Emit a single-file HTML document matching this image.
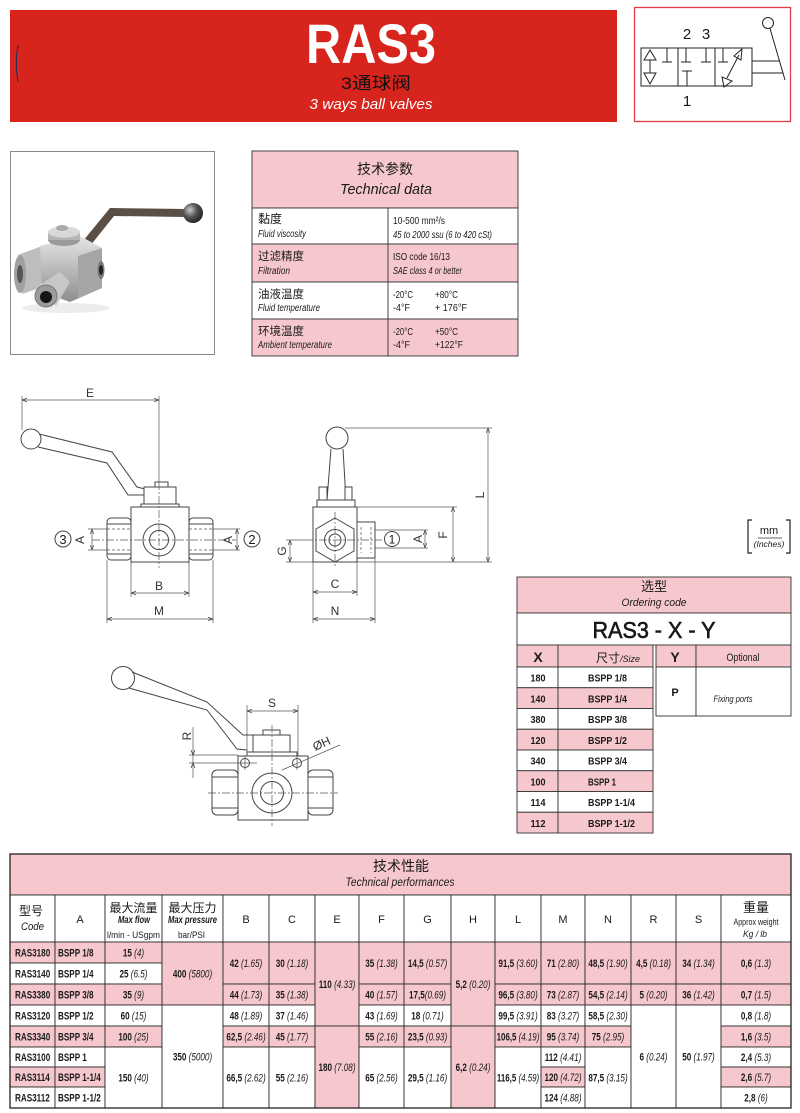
<!DOCTYPE html>
<html><head><meta charset="utf-8">
<style>
html,body{margin:0;padding:0;background:#fff;}
svg{display:block;}
text{font-family:'Liberation Sans','Noto Sans CJK SC',sans-serif;fill:#1a1a1a;}
.b{font-weight:bold;}
.i{font-style:italic;}
.ln{stroke:#444;stroke-width:1;fill:none;}
.lf{stroke:#444;stroke-width:1;fill:#fff;}
.dm{stroke:#555;stroke-width:0.7;fill:none;}
.cl{stroke:#555;stroke-width:0.7;fill:none;stroke-dasharray:8 2 2 2;}
.dl{font-size:12px;fill:#333;}
.d{font-size:11px;}
</style></head><body>
<svg width="800" height="1113" viewBox="0 0 800 1113" xmlns="http://www.w3.org/2000/svg">
<defs>
<marker id="a" viewBox="0 0 10 10" refX="10" refY="5" markerUnits="userSpaceOnUse" markerWidth="5" markerHeight="5" orient="auto-start-reverse"><path d="M0,1.5 L10,5 L0,8.5" fill="none" stroke="#444" stroke-width="1.4"/></marker>
<linearGradient id="met" x1="0" y1="0" x2="0" y2="1"><stop offset="0" stop-color="#e6e6e6"/><stop offset="1" stop-color="#8d8d8d"/></linearGradient>
<radialGradient id="ball" cx=".35" cy=".35" r=".7"><stop offset="0" stop-color="#ccc"/><stop offset=".5" stop-color="#555"/><stop offset="1" stop-color="#222"/></radialGradient>
</defs>

<!-- HEADER -->
<rect x="10" y="10" width="607" height="112" fill="#d7251d"/>
<path d="M18,45 Q14.5,63 18,82" stroke="#1d3060" stroke-width="1.1" fill="none"/>
<text x="371" y="63" font-size="56" class="b" style="fill:#fff" text-anchor="middle" textLength="130" lengthAdjust="spacingAndGlyphs">RAS3</text>
<text x="376" y="89" font-size="17" style="fill:#111" text-anchor="middle" textLength="70" lengthAdjust="spacingAndGlyphs">3通球阀</text>
<text x="371" y="109" font-size="15" class="i" style="fill:#fff" text-anchor="middle" textLength="123" lengthAdjust="spacingAndGlyphs">3 ways ball valves</text>

<!-- SYMBOL -->
<rect x="634.5" y="7.5" width="156" height="114" fill="#fff" stroke="#e33b47" stroke-width="1.3"/>
<text x="687" y="39" font-size="15" text-anchor="middle">2</text>
<text x="706" y="39" font-size="15" text-anchor="middle">3</text>
<text x="687" y="106" font-size="15" text-anchor="middle">1</text>
<g stroke="#222" stroke-width="1" fill="none">
<rect x="641" y="48" width="111" height="38"/>
<line x1="678" y1="48" x2="678" y2="86"/>
<line x1="715" y1="48" x2="715" y2="86"/>
<line x1="650" y1="60" x2="650" y2="73"/>
<path d="M644,60 L650,50 L656,60 Z"/>
<path d="M644,73 L650,84 L656,73 Z"/>
<path d="M667,48 V62 M662,62 H672"/>
<path d="M686,48 V62 M681,62 H691"/>
<path d="M706,48 V62 M701,62 H711"/>
<path d="M682,71 H692 M687,71 V86"/>
<path d="M723,48 V62 M718,62 H728"/>
<line x1="727" y1="78" x2="739" y2="55"/>
<path d="M734,56 L742,49 L741,60 Z"/>
<path d="M722,77 L724,87 L732,81 Z"/>
<path d="M752,61 H780 M752,73 H783"/>
<circle cx="768" cy="23" r="5.5"/>
<line x1="770" y1="28.5" x2="785" y2="80"/>
</g>

<!-- PHOTO -->
<rect x="10.5" y="151.5" width="204" height="203" fill="#fff" stroke="#8a8a8a"/>
<ellipse cx="66" cy="308" rx="44" ry="5" fill="#ececec"/>
<path d="M74,252 L110,208 L186,209 L186,217 L114,216 L82,256 Z" fill="#5b4e44"/>
<circle cx="193" cy="213" r="10" fill="url(#ball)"/>
<path d="M18,255 L42,246 L46,286 L22,294 Z" fill="#bdbdbd"/>
<ellipse cx="20" cy="274" rx="6" ry="19" fill="#a0a0a0"/>
<ellipse cx="20" cy="274" rx="3" ry="9" fill="#555"/>
<path d="M40,246 L80,236 L102,248 L102,288 L70,302 L42,292 Z" fill="url(#met)"/>
<path d="M78,256 L102,248 L102,288 L78,298 Z" fill="#a5a5a5"/>
<ellipse cx="101" cy="270" rx="3.5" ry="9" fill="#777"/>
<ellipse cx="101" cy="270" rx="2" ry="5" fill="#222"/>
<path d="M38,286 L60,272 L70,282 L56,306 Z" fill="#c7c7c7"/>
<circle cx="46" cy="296" r="11" fill="#9c9c9c" stroke="#777"/>
<circle cx="46" cy="297" r="6" fill="#151515"/>
<ellipse cx="64" cy="240" rx="16" ry="6" fill="#9a9a9a"/>
<rect x="48" y="232" width="32" height="8" fill="#b5b5b5"/>
<ellipse cx="64" cy="232" rx="16" ry="5.5" fill="#d9d9d9"/>
<ellipse cx="62" cy="228" rx="6" ry="3" fill="#aaa"/>

<!-- TECH DATA TABLE -->
<g stroke="#333" stroke-width="0.9">
<rect x="252" y="151" width="266" height="57" fill="#f6c8ce"/>
<rect x="252" y="208" width="266" height="36" fill="#fff"/>
<rect x="252" y="244" width="266" height="38" fill="#f6c8ce"/>
<rect x="252" y="282" width="266" height="37" fill="#fff"/>
<rect x="252" y="319" width="266" height="37" fill="#f6c8ce"/>
<line x1="388" y1="208" x2="388" y2="356"/>
</g>
<text x="385" y="174" font-size="14" text-anchor="middle">技术参数</text>
<text x="386" y="194" font-size="15" class="i" text-anchor="middle" textLength="92" lengthAdjust="spacingAndGlyphs">Technical data</text>
<text x="258" y="223" font-size="12">黏度</text>
<text x="258" y="237" font-size="10" class="i" textLength="48" lengthAdjust="spacingAndGlyphs">Fluid viscosity</text>
<text x="258" y="260" font-size="11.5">过滤精度</text>
<text x="258" y="274" font-size="10" class="i" textLength="32" lengthAdjust="spacingAndGlyphs">Filtration</text>
<text x="258" y="298" font-size="11.5">油液温度</text>
<text x="258" y="311" font-size="10" class="i" textLength="62" lengthAdjust="spacingAndGlyphs">Fluid temperature</text>
<text x="258" y="335" font-size="11.5">环境温度</text>
<text x="258" y="348" font-size="10" class="i" textLength="74" lengthAdjust="spacingAndGlyphs">Ambient temperature</text>
<text x="393" y="224" font-size="10" textLength="52" lengthAdjust="spacingAndGlyphs">10-500 mm²/s</text>
<text x="393" y="238" font-size="10" class="i" textLength="99" lengthAdjust="spacingAndGlyphs">45 to 2000 ssu (6 to 420 cSt)</text>
<text x="393" y="260" font-size="10" textLength="57" lengthAdjust="spacingAndGlyphs">ISO code 16/13</text>
<text x="393" y="274" font-size="10" class="i" textLength="69" lengthAdjust="spacingAndGlyphs">SAE class 4 or better</text>
<text x="393" y="298" font-size="10" textLength="20" lengthAdjust="spacingAndGlyphs">-20°C</text>
<text x="435" y="298" font-size="10" textLength="23" lengthAdjust="spacingAndGlyphs">+80°C</text>
<text x="393" y="311" font-size="10" textLength="17" lengthAdjust="spacingAndGlyphs">-4°F</text>
<text x="435" y="311" font-size="10" textLength="32" lengthAdjust="spacingAndGlyphs">+ 176°F</text>
<text x="393" y="335" font-size="10" textLength="20" lengthAdjust="spacingAndGlyphs">-20°C</text>
<text x="435" y="335" font-size="10" textLength="23" lengthAdjust="spacingAndGlyphs">+50°C</text>
<text x="393" y="348" font-size="10" textLength="17" lengthAdjust="spacingAndGlyphs">-4°F</text>
<text x="435" y="348" font-size="10" textLength="28" lengthAdjust="spacingAndGlyphs">+122°F</text>

<!-- FRONT VIEW -->
<line class="dm" x1="22" y1="400" x2="159" y2="400" marker-start="url(#a)" marker-end="url(#a)"/>
<line class="dm" x1="22" y1="396" x2="22" y2="430"/>
<line class="dm" x1="159" y1="396" x2="159" y2="482"/>
<text x="90" y="397" class="dl" text-anchor="middle">E</text>
<circle class="lf" cx="31" cy="439" r="10"/>
<path class="ln" d="M39,434 L112,452 L137,487 L145,489"/>
<path class="ln" d="M38,447 L107,463 L128,495 L144,495"/>
<rect class="lf" x="144" y="487" width="32" height="17"/>
<rect class="lf" x="155" y="482" width="13" height="5"/>
<rect class="lf" x="141" y="504" width="38" height="3"/>
<rect class="lf" x="131" y="507" width="58" height="55"/>
<rect class="lf" x="107" y="518" width="24" height="42" rx="4"/>
<path class="ln" d="M107,524 H131 M107,554 H131"/>
<rect class="lf" x="189" y="518" width="24" height="42" rx="4"/>
<path class="ln" d="M189,524 H213 M189,554 H213"/>
<circle class="ln" cx="159" cy="540" r="16"/>
<circle class="ln" cx="159" cy="540" r="9.5"/>
<line class="cl" x1="159" y1="482" x2="159" y2="568"/>
<line class="cl" x1="92" y1="540" x2="236" y2="540"/>
<path class="dm" d="M88,529 H107 M88,550 H107"/>
<path class="dm" d="M107,529 H131 M107,550 H131" stroke-dasharray="3 2"/>
<line class="dm" x1="92" y1="529" x2="92" y2="550" marker-start="url(#a)" marker-end="url(#a)"/>
<text transform="translate(84,540) rotate(-90)" class="dl" text-anchor="middle">A</text>
<circle class="ln" cx="63" cy="539" r="8"/>
<text x="63" y="544" font-size="13" text-anchor="middle">3</text>
<path class="dm" d="M213,529 H240 M213,550 H240"/>
<path class="dm" d="M189,529 H213 M189,550 H213" stroke-dasharray="3 2"/>
<line class="dm" x1="237" y1="529" x2="237" y2="550" marker-start="url(#a)" marker-end="url(#a)"/>
<text transform="translate(232,540) rotate(-90)" class="dl" text-anchor="middle">A</text>
<circle class="ln" cx="252" cy="539" r="8"/>
<text x="252" y="544" font-size="13" text-anchor="middle">2</text>
<path class="dm" d="M131,562 V597 M189,562 V597"/>
<line class="dm" x1="131" y1="593" x2="189" y2="593" marker-start="url(#a)" marker-end="url(#a)"/>
<text x="159" y="590" class="dl" text-anchor="middle">B</text>
<path class="dm" d="M107,560 V623 M213,560 V623"/>
<line class="dm" x1="107" y1="619" x2="213" y2="619" marker-start="url(#a)" marker-end="url(#a)"/>
<text x="159" y="615" class="dl" text-anchor="middle">M</text>

<!-- SIDE VIEW -->
<path class="dm" d="M345,428 H492"/>
<circle class="lf" cx="337" cy="438" r="11"/>
<path class="ln" d="M331,449 L327,500 M343,449 L346,500"/>
<rect class="lf" x="319" y="487" width="8" height="16"/>
<rect class="lf" x="345" y="487" width="7" height="16"/>
<rect class="lf" x="317" y="500" width="38" height="7"/>
<rect class="lf" x="313" y="507" width="44" height="55"/>
<polygon class="ln" points="335,518 354,529 354,551 335,562 316,551 316,529"/>
<circle class="ln" cx="335" cy="540" r="10.5"/>
<circle class="ln" cx="335" cy="540" r="6"/>
<rect class="lf" x="357" y="522" width="18" height="36"/>
<path class="dm" d="M361,527 V553 M371,527 V553" stroke-dasharray="3 2"/>
<circle class="ln" cx="392" cy="539" r="7.5"/>
<text x="392" y="543.5" font-size="12" text-anchor="middle">1</text>
<path class="dm" d="M375,530 H428 M375,548 H428"/>
<line class="dm" x1="425" y1="530" x2="425" y2="548" marker-start="url(#a)" marker-end="url(#a)"/>
<text transform="translate(422,539) rotate(-90)" class="dl" text-anchor="middle">A</text>
<line class="cl" x1="305" y1="540" x2="382" y2="540"/>
<line class="cl" x1="335" y1="512" x2="335" y2="568"/>
<path class="dm" d="M357,507 H457"/>
<line class="dm" x1="453" y1="507" x2="453" y2="562" marker-start="url(#a)" marker-end="url(#a)"/>
<text transform="translate(447,535) rotate(-90)" class="dl" text-anchor="middle">F</text>
<line class="dm" x1="488" y1="428" x2="488" y2="562" marker-start="url(#a)" marker-end="url(#a)"/>
<text transform="translate(484,495) rotate(-90)" class="dl" text-anchor="middle">L</text>
<path class="dm" d="M357,562 H492"/>
<path class="dm" d="M286,562 H313 M286,540 H305"/>
<line class="dm" x1="290" y1="540" x2="290" y2="562" marker-start="url(#a)" marker-end="url(#a)"/>
<text transform="translate(286,551) rotate(-90)" class="dl" text-anchor="middle">G</text>
<path class="dm" d="M313,562 V623 M357,562 V596 M375,558 V623"/>
<line class="dm" x1="313" y1="592" x2="357" y2="592" marker-start="url(#a)" marker-end="url(#a)"/>
<text x="335" y="588" class="dl" text-anchor="middle">C</text>
<line class="dm" x1="313" y1="619" x2="375" y2="619" marker-start="url(#a)" marker-end="url(#a)"/>
<text x="335" y="615" class="dl" text-anchor="middle">N</text>

<!-- MM / INCHES -->
<path d="M752,520 H748 V553 H752 M786,520 H790 V553 H786" stroke="#222" stroke-width="1.2" fill="none"/>
<text x="769" y="534" font-size="11" text-anchor="middle">mm</text>
<line x1="758" y1="538" x2="782" y2="538" stroke="#333" stroke-width="0.8"/>
<text x="769" y="547" font-size="8.5" class="i" text-anchor="middle">(Inches)</text>

<!-- PLAN VIEW -->
<path class="dm" d="M247,705 V756 M298,705 V770"/>
<line class="dm" x1="247" y1="711" x2="298" y2="711" marker-start="url(#a)" marker-end="url(#a)"/>
<text x="272" y="707" class="dl" text-anchor="middle">S</text>
<circle class="lf" cx="123" cy="678" r="11.5"/>
<path class="ln" d="M132,672 L207,702 L243,735 L253,735"/>
<path class="ln" d="M129,688 L207,710 L237,749 L247,750"/>
<rect class="lf" x="253" y="735" width="37" height="17"/>
<rect class="lf" x="263" y="730" width="17" height="5"/>
<rect class="lf" x="247" y="752" width="50" height="4"/>
<rect class="lf" x="238" y="756" width="70" height="64"/>
<rect class="lf" x="212" y="770" width="26" height="45" rx="5"/>
<path class="ln" d="M212,777 H238 M212,808 H238"/>
<rect class="lf" x="308" y="770" width="25" height="45" rx="5"/>
<path class="ln" d="M308,777 H333 M308,808 H333"/>
<circle class="ln" cx="272" cy="793" r="20"/>
<circle class="ln" cx="272" cy="793" r="11.5"/>
<circle class="ln" cx="245" cy="763" r="4.5"/>
<circle class="ln" cx="297" cy="763" r="4.5"/>
<path class="dm" d="M297,756 V770 M245,756 V770"/>
<line class="cl" x1="272" y1="725" x2="272" y2="826"/>
<line class="cl" x1="208" y1="793" x2="338" y2="793"/>
<path class="dm" d="M189,755 H238 M189,763 H257"/>
<line class="dm" x1="193" y1="727" x2="193" y2="778"/>
<path d="M191,750 L193,755 L195,750 M191,768 L193,763 L195,768" stroke="#444" stroke-width="0.8" fill="none"/>
<text transform="translate(191,736) rotate(-90)" class="dl" text-anchor="middle">R</text>
<line class="dm" x1="282" y1="770" x2="340" y2="745"/>
<text transform="translate(315,751) rotate(-24)" class="dl">ØH</text>

<!-- ORDERING CODE -->
<g stroke="#333" stroke-width="0.9">
<rect x="517" y="577" width="274" height="36" fill="#f6c8ce"/>
<rect x="517" y="613" width="274" height="32" fill="#fff"/>
<rect x="517" y="645" width="41" height="22" fill="#f6c8ce"/>
<rect x="558" y="645" width="95" height="22" fill="#f6c8ce"/>
<rect x="656" y="645" width="40" height="22" fill="#f6c8ce"/>
<rect x="696" y="645" width="95" height="22" fill="#f6c8ce"/>
<rect x="656" y="667" width="40" height="49" fill="#fff"/>
<rect x="696" y="667" width="95" height="49" fill="#fff"/>
<rect x="517" y="667" width="41" height="20.75" fill="#fff"/><rect x="558" y="667" width="95" height="20.75" fill="#fff"/>
<rect x="517" y="687.75" width="41" height="20.75" fill="#f6c8ce"/><rect x="558" y="687.75" width="95" height="20.75" fill="#f6c8ce"/>
<rect x="517" y="708.5" width="41" height="20.75" fill="#fff"/><rect x="558" y="708.5" width="95" height="20.75" fill="#fff"/>
<rect x="517" y="729.25" width="41" height="20.75" fill="#f6c8ce"/><rect x="558" y="729.25" width="95" height="20.75" fill="#f6c8ce"/>
<rect x="517" y="750" width="41" height="20.75" fill="#fff"/><rect x="558" y="750" width="95" height="20.75" fill="#fff"/>
<rect x="517" y="770.75" width="41" height="20.75" fill="#f6c8ce"/><rect x="558" y="770.75" width="95" height="20.75" fill="#f6c8ce"/>
<rect x="517" y="791.5" width="41" height="20.75" fill="#fff"/><rect x="558" y="791.5" width="95" height="20.75" fill="#fff"/>
<rect x="517" y="812.25" width="41" height="20.75" fill="#f6c8ce"/><rect x="558" y="812.25" width="95" height="20.75" fill="#f6c8ce"/>
</g>
<text x="654" y="591" font-size="13" text-anchor="middle">选型</text>
<text x="654" y="606" font-size="11" class="i" text-anchor="middle" textLength="65" lengthAdjust="spacingAndGlyphs">Ordering code</text>
<text x="654" y="638" font-size="23" text-anchor="middle" textLength="123" lengthAdjust="spacingAndGlyphs" stroke="#111" stroke-width="0.6">RAS3 - X - Y</text>
<text x="538" y="662" font-size="14" class="b" text-anchor="middle">X</text>
<text x="596" y="662" font-size="12">尺寸<tspan class="i" font-size="9">/Size</tspan></text>
<text x="675" y="662" font-size="14" class="b" text-anchor="middle">Y</text>
<text x="743" y="661" font-size="11" text-anchor="middle" textLength="33" lengthAdjust="spacingAndGlyphs">Optional</text>
<text x="675" y="696" font-size="11" class="b" text-anchor="middle">P</text>
<text x="733" y="702" font-size="9.5" class="i" text-anchor="middle" textLength="39" lengthAdjust="spacingAndGlyphs">Fixing ports</text>
<g class="b" font-size="10.5">
<text x="538" y="681.5" text-anchor="middle" textLength="15" lengthAdjust="spacingAndGlyphs">180</text>
<text x="588" y="681.5" textLength="39" lengthAdjust="spacingAndGlyphs">BSPP 1/8</text>
<text x="538" y="702.25" text-anchor="middle" textLength="15" lengthAdjust="spacingAndGlyphs">140</text>
<text x="588" y="702.25" textLength="39" lengthAdjust="spacingAndGlyphs">BSPP 1/4</text>
<text x="538" y="723" text-anchor="middle" textLength="15" lengthAdjust="spacingAndGlyphs">380</text>
<text x="588" y="723" textLength="39" lengthAdjust="spacingAndGlyphs">BSPP 3/8</text>
<text x="538" y="743.75" text-anchor="middle" textLength="15" lengthAdjust="spacingAndGlyphs">120</text>
<text x="588" y="743.75" textLength="39" lengthAdjust="spacingAndGlyphs">BSPP 1/2</text>
<text x="538" y="764.5" text-anchor="middle" textLength="15" lengthAdjust="spacingAndGlyphs">340</text>
<text x="588" y="764.5" textLength="39" lengthAdjust="spacingAndGlyphs">BSPP 3/4</text>
<text x="538" y="785.25" text-anchor="middle" textLength="15" lengthAdjust="spacingAndGlyphs">100</text>
<text x="588" y="785.25" textLength="28" lengthAdjust="spacingAndGlyphs">BSPP 1</text>
<text x="538" y="806" text-anchor="middle" textLength="15" lengthAdjust="spacingAndGlyphs">114</text>
<text x="588" y="806" textLength="47" lengthAdjust="spacingAndGlyphs">BSPP 1-1/4</text>
<text x="538" y="826.75" text-anchor="middle" textLength="15" lengthAdjust="spacingAndGlyphs">112</text>
<text x="588" y="826.75" textLength="47" lengthAdjust="spacingAndGlyphs">BSPP 1-1/2</text>
</g>

<!-- TECHNICAL PERFORMANCES TABLE -->
<g stroke="#2b2b2b" stroke-width="0.9">
<rect x="10" y="854" width="781" height="41" fill="#f6c8ce"/>
<rect x="10" y="895" width="45" height="47" fill="#fff"/>
<rect x="55" y="895" width="50" height="47" fill="#fff"/>
<rect x="105" y="895" width="57" height="47" fill="#fff"/>
<rect x="162" y="895" width="61" height="47" fill="#fff"/>
<rect x="223" y="895" width="46" height="47" fill="#fff"/>
<rect x="269" y="895" width="46" height="47" fill="#fff"/>
<rect x="315" y="895" width="44" height="47" fill="#fff"/>
<rect x="359" y="895" width="45" height="47" fill="#fff"/>
<rect x="404" y="895" width="47" height="47" fill="#fff"/>
<rect x="451" y="895" width="44" height="47" fill="#fff"/>
<rect x="495" y="895" width="46" height="47" fill="#fff"/>
<rect x="541" y="895" width="44" height="47" fill="#fff"/>
<rect x="585" y="895" width="46" height="47" fill="#fff"/>
<rect x="631" y="895" width="45" height="47" fill="#fff"/>
<rect x="676" y="895" width="45" height="47" fill="#fff"/>
<rect x="721" y="895" width="70" height="47" fill="#fff"/>
<rect x="10" y="942" width="45" height="21" fill="#f6c8ce"/><rect x="55" y="942" width="50" height="21" fill="#f6c8ce"/>
<rect x="10" y="963" width="45" height="21" fill="#fff"/><rect x="55" y="963" width="50" height="21" fill="#fff"/>
<rect x="10" y="984" width="45" height="21" fill="#f6c8ce"/><rect x="55" y="984" width="50" height="21" fill="#f6c8ce"/>
<rect x="10" y="1005" width="45" height="21" fill="#fff"/><rect x="55" y="1005" width="50" height="21" fill="#fff"/>
<rect x="10" y="1026" width="45" height="21" fill="#f6c8ce"/><rect x="55" y="1026" width="50" height="21" fill="#f6c8ce"/>
<rect x="10" y="1047" width="45" height="20" fill="#fff"/><rect x="55" y="1047" width="50" height="20" fill="#fff"/>
<rect x="10" y="1067" width="45" height="20" fill="#f6c8ce"/><rect x="55" y="1067" width="50" height="20" fill="#f6c8ce"/>
<rect x="10" y="1087" width="45" height="21" fill="#fff"/><rect x="55" y="1087" width="50" height="21" fill="#fff"/>
<rect x="105" y="942" width="57" height="21" fill="#f6c8ce"/>
<rect x="105" y="963" width="57" height="21" fill="#fff"/>
<rect x="105" y="984" width="57" height="21" fill="#f6c8ce"/>
<rect x="105" y="1005" width="57" height="21" fill="#fff"/>
<rect x="105" y="1026" width="57" height="21" fill="#f6c8ce"/>
<rect x="105" y="1047" width="57" height="61" fill="#fff"/>
<rect x="162" y="942" width="61" height="63" fill="#f6c8ce"/>
<rect x="162" y="1005" width="61" height="103" fill="#fff"/>
<rect x="223" y="942" width="46" height="42" fill="#f6c8ce"/><rect x="223" y="984" width="46" height="21" fill="#f6c8ce"/><rect x="223" y="1005" width="46" height="21" fill="#fff"/><rect x="223" y="1026" width="46" height="21" fill="#f6c8ce"/><rect x="223" y="1047" width="46" height="61" fill="#fff"/>
<rect x="269" y="942" width="46" height="42" fill="#f6c8ce"/><rect x="269" y="984" width="46" height="21" fill="#f6c8ce"/><rect x="269" y="1005" width="46" height="21" fill="#fff"/><rect x="269" y="1026" width="46" height="21" fill="#f6c8ce"/><rect x="269" y="1047" width="46" height="61" fill="#fff"/>
<rect x="315" y="942" width="44" height="84" fill="#f6c8ce"/><rect x="315" y="1026" width="44" height="82" fill="#f6c8ce"/>
<rect x="359" y="942" width="45" height="42" fill="#f6c8ce"/><rect x="359" y="984" width="45" height="21" fill="#f6c8ce"/><rect x="359" y="1005" width="45" height="21" fill="#fff"/><rect x="359" y="1026" width="45" height="21" fill="#f6c8ce"/><rect x="359" y="1047" width="45" height="61" fill="#fff"/>
<rect x="404" y="942" width="47" height="42" fill="#f6c8ce"/><rect x="404" y="984" width="47" height="21" fill="#f6c8ce"/><rect x="404" y="1005" width="47" height="21" fill="#fff"/><rect x="404" y="1026" width="47" height="21" fill="#f6c8ce"/><rect x="404" y="1047" width="47" height="61" fill="#fff"/>
<rect x="451" y="942" width="44" height="84" fill="#f6c8ce"/><rect x="451" y="1026" width="44" height="82" fill="#f6c8ce"/>
<rect x="495" y="942" width="46" height="42" fill="#f6c8ce"/><rect x="495" y="984" width="46" height="21" fill="#f6c8ce"/><rect x="495" y="1005" width="46" height="21" fill="#fff"/><rect x="495" y="1026" width="46" height="21" fill="#f6c8ce"/><rect x="495" y="1047" width="46" height="61" fill="#fff"/>
<rect x="541" y="942" width="44" height="42" fill="#f6c8ce"/><rect x="541" y="984" width="44" height="21" fill="#f6c8ce"/><rect x="541" y="1005" width="44" height="21" fill="#fff"/><rect x="541" y="1026" width="44" height="21" fill="#f6c8ce"/><rect x="541" y="1047" width="44" height="20" fill="#fff"/><rect x="541" y="1067" width="44" height="20" fill="#f6c8ce"/><rect x="541" y="1087" width="44" height="21" fill="#fff"/>
<rect x="585" y="942" width="46" height="42" fill="#f6c8ce"/><rect x="585" y="984" width="46" height="21" fill="#f6c8ce"/><rect x="585" y="1005" width="46" height="21" fill="#fff"/><rect x="585" y="1026" width="46" height="21" fill="#f6c8ce"/><rect x="585" y="1047" width="46" height="61" fill="#fff"/>
<rect x="631" y="942" width="45" height="42" fill="#f6c8ce"/><rect x="631" y="984" width="45" height="21" fill="#f6c8ce"/><rect x="631" y="1005" width="45" height="103" fill="#fff"/>
<rect x="676" y="942" width="45" height="42" fill="#f6c8ce"/><rect x="676" y="984" width="45" height="21" fill="#f6c8ce"/><rect x="676" y="1005" width="45" height="103" fill="#fff"/>
<rect x="721" y="942" width="70" height="42" fill="#f6c8ce"/><rect x="721" y="984" width="70" height="21" fill="#f6c8ce"/><rect x="721" y="1005" width="70" height="21" fill="#fff"/><rect x="721" y="1026" width="70" height="21" fill="#f6c8ce"/><rect x="721" y="1047" width="70" height="20" fill="#fff"/><rect x="721" y="1067" width="70" height="20" fill="#f6c8ce"/><rect x="721" y="1087" width="70" height="21" fill="#fff"/>
</g>
<rect x="10" y="854" width="781" height="254" fill="none" stroke="#222" stroke-width="1.3"/>

<text x="401" y="871" font-size="14" text-anchor="middle">技术性能</text>
<text x="400" y="886" font-size="12" class="i" text-anchor="middle" textLength="109" lengthAdjust="spacingAndGlyphs">Technical performances</text>
<text x="19" y="915" font-size="12">型号</text>
<text x="21" y="930" font-size="11" class="i" textLength="23" lengthAdjust="spacingAndGlyphs">Code</text>
<text x="80" y="923" font-size="11" text-anchor="middle">A</text>
<text x="133.5" y="912" font-size="12" text-anchor="middle">最大流量</text>
<text x="134" y="923" font-size="10" class="b i" text-anchor="middle" textLength="32" lengthAdjust="spacingAndGlyphs">Max flow</text>
<text x="133.5" y="938" font-size="9.5" text-anchor="middle" textLength="53" lengthAdjust="spacingAndGlyphs">l/min - USgpm</text>
<text x="192.5" y="912" font-size="12" text-anchor="middle">最大压力</text>
<text x="192.5" y="923" font-size="10" class="b i" text-anchor="middle" textLength="49" lengthAdjust="spacingAndGlyphs">Max pressure</text>
<text x="191.5" y="938" font-size="9.5" text-anchor="middle" textLength="27" lengthAdjust="spacingAndGlyphs">bar/PSI</text>
<g font-size="11" text-anchor="middle">
<text x="246" y="923">B</text><text x="292" y="923">C</text><text x="337" y="923">E</text>
<text x="381.5" y="923">F</text><text x="427.5" y="923">G</text><text x="473" y="923">H</text>
<text x="518" y="923">L</text><text x="563" y="923">M</text><text x="608" y="923">N</text>
<text x="653.5" y="923">R</text><text x="698.5" y="923">S</text>
</g>
<text x="756" y="912" font-size="13" text-anchor="middle">重量</text>
<text x="756" y="925" font-size="9" text-anchor="middle" textLength="45" lengthAdjust="spacingAndGlyphs">Approx weight</text>
<text x="755" y="937" font-size="9" class="i" text-anchor="middle" textLength="24" lengthAdjust="spacingAndGlyphs">Kg / lb</text>

<g class="d">
<text class="b" transform="translate(15,956.4) scale(.74,1)">RAS3180</text>
<text class="b" transform="translate(15,977.4) scale(.74,1)">RAS3140</text>
<text class="b" transform="translate(15,998.4) scale(.74,1)">RAS3380</text>
<text class="b" transform="translate(15,1019.4) scale(.74,1)">RAS3120</text>
<text class="b" transform="translate(15,1040.4) scale(.74,1)">RAS3340</text>
<text class="b" transform="translate(15,1060.9) scale(.74,1)">RAS3100</text>
<text class="b" transform="translate(15,1080.9) scale(.74,1)">RAS3114</text>
<text class="b" transform="translate(15,1101.4) scale(.74,1)">RAS3112</text>
<text class="b" transform="translate(58,956.4) scale(.74,1)">BSPP 1/8</text>
<text class="b" transform="translate(58,977.4) scale(.74,1)">BSPP 1/4</text>
<text class="b" transform="translate(58,998.4) scale(.74,1)">BSPP 3/8</text>
<text class="b" transform="translate(58,1019.4) scale(.74,1)">BSPP 1/2</text>
<text class="b" transform="translate(58,1040.4) scale(.74,1)">BSPP 3/4</text>
<text class="b" transform="translate(58,1060.9) scale(.74,1)">BSPP 1</text>
<text class="b" transform="translate(58,1080.9) scale(.74,1)">BSPP 1-1/4</text>
<text class="b" transform="translate(58,1101.4) scale(.74,1)">BSPP 1-1/2</text>
</g>
<g class="d" text-anchor="middle">
<text transform="translate(133.5,956.4) scale(.74,1)"><tspan class="b">15</tspan> <tspan class="i">(4)</tspan></text>
<text transform="translate(133.5,977.4) scale(.74,1)"><tspan class="b">25</tspan> <tspan class="i">(6.5)</tspan></text>
<text transform="translate(133.5,998.4) scale(.74,1)"><tspan class="b">35</tspan> <tspan class="i">(9)</tspan></text>
<text transform="translate(133.5,1019.4) scale(.74,1)"><tspan class="b">60</tspan> <tspan class="i">(15)</tspan></text>
<text transform="translate(133.5,1040.4) scale(.74,1)"><tspan class="b">100</tspan> <tspan class="i">(25)</tspan></text>
<text transform="translate(133.5,1081.4) scale(.74,1)"><tspan class="b">150</tspan> <tspan class="i">(40)</tspan></text>
<text transform="translate(192.5,977.4) scale(.74,1)"><tspan class="b">400</tspan> <tspan class="i">(5800)</tspan></text>
<text transform="translate(192.5,1060.4) scale(.74,1)"><tspan class="b">350</tspan> <tspan class="i">(5000)</tspan></text>
<text transform="translate(246,966.9) scale(.74,1)"><tspan class="b">42</tspan> <tspan class="i">(1.65)</tspan></text>
<text transform="translate(246,998.4) scale(.74,1)"><tspan class="b">44</tspan> <tspan class="i">(1.73)</tspan></text>
<text transform="translate(246,1019.4) scale(.74,1)"><tspan class="b">48</tspan> <tspan class="i">(1.89)</tspan></text>
<text transform="translate(246,1040.4) scale(.74,1)"><tspan class="b">62,5</tspan> <tspan class="i">(2.46)</tspan></text>
<text transform="translate(246,1081.4) scale(.74,1)"><tspan class="b">66,5</tspan> <tspan class="i">(2.62)</tspan></text>
<text transform="translate(292,966.9) scale(.74,1)"><tspan class="b">30</tspan> <tspan class="i">(1.18)</tspan></text>
<text transform="translate(292,998.4) scale(.74,1)"><tspan class="b">35</tspan> <tspan class="i">(1.38)</tspan></text>
<text transform="translate(292,1019.4) scale(.74,1)"><tspan class="b">37</tspan> <tspan class="i">(1.46)</tspan></text>
<text transform="translate(292,1040.4) scale(.74,1)"><tspan class="b">45</tspan> <tspan class="i">(1.77)</tspan></text>
<text transform="translate(292,1081.4) scale(.74,1)"><tspan class="b">55</tspan> <tspan class="i">(2.16)</tspan></text>
<text transform="translate(337,987.9) scale(.74,1)"><tspan class="b">110</tspan> <tspan class="i">(4.33)</tspan></text>
<text transform="translate(337,1070.9) scale(.74,1)"><tspan class="b">180</tspan> <tspan class="i">(7.08)</tspan></text>
<text transform="translate(381.5,966.9) scale(.74,1)"><tspan class="b">35</tspan> <tspan class="i">(1.38)</tspan></text>
<text transform="translate(381.5,998.4) scale(.74,1)"><tspan class="b">40</tspan> <tspan class="i">(1.57)</tspan></text>
<text transform="translate(381.5,1019.4) scale(.74,1)"><tspan class="b">43</tspan> <tspan class="i">(1.69)</tspan></text>
<text transform="translate(381.5,1040.4) scale(.74,1)"><tspan class="b">55</tspan> <tspan class="i">(2.16)</tspan></text>
<text transform="translate(381.5,1081.4) scale(.74,1)"><tspan class="b">65</tspan> <tspan class="i">(2.56)</tspan></text>
<text transform="translate(427.5,966.9) scale(.74,1)"><tspan class="b">14,5</tspan> <tspan class="i">(0.57)</tspan></text>
<text transform="translate(427.5,998.4) scale(.74,1)"><tspan class="b">17,5</tspan><tspan class="i">(0.69)</tspan></text>
<text transform="translate(427.5,1019.4) scale(.74,1)"><tspan class="b">18</tspan> <tspan class="i">(0.71)</tspan></text>
<text transform="translate(427.5,1040.4) scale(.74,1)"><tspan class="b">23,5</tspan> <tspan class="i">(0.93)</tspan></text>
<text transform="translate(427.5,1081.4) scale(.74,1)"><tspan class="b">29,5</tspan> <tspan class="i">(1.16)</tspan></text>
<text transform="translate(473,987.9) scale(.74,1)"><tspan class="b">5,2</tspan> <tspan class="i">(0.20)</tspan></text>
<text transform="translate(473,1070.9) scale(.74,1)"><tspan class="b">6,2</tspan> <tspan class="i">(0.24)</tspan></text>
<text transform="translate(518,966.9) scale(.74,1)"><tspan class="b">91,5</tspan> <tspan class="i">(3.60)</tspan></text>
<text transform="translate(518,998.4) scale(.74,1)"><tspan class="b">96,5</tspan> <tspan class="i">(3.80)</tspan></text>
<text transform="translate(518,1019.4) scale(.74,1)"><tspan class="b">99,5</tspan> <tspan class="i">(3.91)</tspan></text>
<text transform="translate(518,1040.4) scale(.72,1)"><tspan class="b">106,5</tspan> <tspan class="i">(4.19)</tspan></text>
<text transform="translate(518,1081.4) scale(.72,1)"><tspan class="b">116,5</tspan> <tspan class="i">(4.59)</tspan></text>
<text transform="translate(563,966.9) scale(.74,1)"><tspan class="b">71</tspan> <tspan class="i">(2.80)</tspan></text>
<text transform="translate(563,998.4) scale(.74,1)"><tspan class="b">73</tspan> <tspan class="i">(2.87)</tspan></text>
<text transform="translate(563,1019.4) scale(.74,1)"><tspan class="b">83</tspan> <tspan class="i">(3.27)</tspan></text>
<text transform="translate(563,1040.4) scale(.74,1)"><tspan class="b">95</tspan> <tspan class="i">(3.74)</tspan></text>
<text transform="translate(563,1060.9) scale(.74,1)"><tspan class="b">112</tspan> <tspan class="i">(4.41)</tspan></text>
<text transform="translate(563,1080.9) scale(.74,1)"><tspan class="b">120</tspan> <tspan class="i">(4.72)</tspan></text>
<text transform="translate(563,1101.4) scale(.74,1)"><tspan class="b">124</tspan> <tspan class="i">(4.88)</tspan></text>
<text transform="translate(608,966.9) scale(.74,1)"><tspan class="b">48,5</tspan> <tspan class="i">(1.90)</tspan></text>
<text transform="translate(608,998.4) scale(.74,1)"><tspan class="b">54,5</tspan> <tspan class="i">(2.14)</tspan></text>
<text transform="translate(608,1019.4) scale(.74,1)"><tspan class="b">58,5</tspan> <tspan class="i">(2.30)</tspan></text>
<text transform="translate(608,1040.4) scale(.74,1)"><tspan class="b">75</tspan> <tspan class="i">(2.95)</tspan></text>
<text transform="translate(608,1081.4) scale(.74,1)"><tspan class="b">87,5</tspan> <tspan class="i">(3.15)</tspan></text>
<text transform="translate(653.5,966.9) scale(.74,1)"><tspan class="b">4,5</tspan> <tspan class="i">(0.18)</tspan></text>
<text transform="translate(653.5,998.4) scale(.74,1)"><tspan class="b">5</tspan> <tspan class="i">(0.20)</tspan></text>
<text transform="translate(653.5,1060.4) scale(.74,1)"><tspan class="b">6</tspan> <tspan class="i">(0.24)</tspan></text>
<text transform="translate(698.5,966.9) scale(.74,1)"><tspan class="b">34</tspan> <tspan class="i">(1.34)</tspan></text>
<text transform="translate(698.5,998.4) scale(.74,1)"><tspan class="b">36</tspan> <tspan class="i">(1.42)</tspan></text>
<text transform="translate(698.5,1060.4) scale(.74,1)"><tspan class="b">50</tspan> <tspan class="i">(1.97)</tspan></text>
<text transform="translate(756,966.9) scale(.74,1)"><tspan class="b">0,6</tspan> <tspan class="i">(1.3)</tspan></text>
<text transform="translate(756,998.4) scale(.74,1)"><tspan class="b">0,7</tspan> <tspan class="i">(1.5)</tspan></text>
<text transform="translate(756,1019.4) scale(.74,1)"><tspan class="b">0,8</tspan> <tspan class="i">(1.8)</tspan></text>
<text transform="translate(756,1040.4) scale(.74,1)"><tspan class="b">1,6</tspan> <tspan class="i">(3.5)</tspan></text>
<text transform="translate(756,1060.9) scale(.74,1)"><tspan class="b">2,4</tspan> <tspan class="i">(5.3)</tspan></text>
<text transform="translate(756,1080.9) scale(.74,1)"><tspan class="b">2,6</tspan> <tspan class="i">(5.7)</tspan></text>
<text transform="translate(756,1101.4) scale(.74,1)"><tspan class="b">2,8</tspan> <tspan class="i">(6)</tspan></text>
</g>
</svg>
</body></html>
